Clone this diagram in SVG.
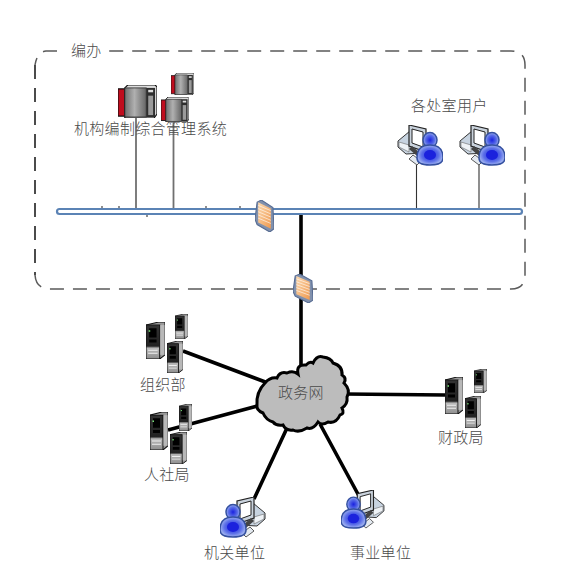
<svg xmlns="http://www.w3.org/2000/svg" width="585" height="584" viewBox="0 0 585 584">
<style>
text{font-family:"Noto Sans CJK SC","Liberation Sans",sans-serif;font-size:15px;letter-spacing:.3px;fill:#4a4a4a;font-weight:300}
.thick{stroke:#000;stroke-width:3.6;fill:none}
.thin{stroke:#333;stroke-width:1.1;fill:none}
.gray{stroke:#707070;stroke-width:1.8;fill:none}
.dash{fill:none;stroke:#5a5a5a;stroke-width:1.5;stroke-dasharray:14 9}
</style>
<defs>
<linearGradient id="rackG" x1="0" x2="1" y1="0" y2="0"><stop offset="0" stop-color="#707070"/><stop offset=".45" stop-color="#b0b0b0"/><stop offset="1" stop-color="#666"/></linearGradient>
<linearGradient id="towerG" x1="0" x2="0" y1="0" y2="1"><stop offset="0" stop-color="#333"/><stop offset=".62" stop-color="#222"/><stop offset=".68" stop-color="#bbb"/><stop offset="1" stop-color="#8e8e8e"/></linearGradient>
<radialGradient id="userG"><stop offset="0" stop-color="#1a22e0"/><stop offset=".65" stop-color="#5b6fe8"/><stop offset="1" stop-color="#9db0f0"/></radialGradient>
<linearGradient id="fwG" x1="0" x2="1" y1="0" y2="1"><stop offset="0" stop-color="#fbd9b0"/><stop offset="1" stop-color="#f09a50"/></linearGradient>
<symbol id="rack" viewBox="0 0 40 34" preserveAspectRatio="none">
<path d="M0 4h8v28H0z" fill="#c00d1e" stroke="#111" stroke-width="1.2"/>
<path d="M7 3 10 0h28l2 2v28l-3 4H7z" fill="#ddd" stroke="#111" stroke-width="1.2"/>
<rect x="7" y="3" width="22" height="30" fill="url(#rackG)" stroke="#222" stroke-width=".8"/>
<rect x="29" y="3" width="9" height="30" fill="#2e2e2e"/>
<rect x="31" y="11" width="5" height="20" fill="#9a9a9a"/>
<rect x="31" y="5" width="5" height="2.500" fill="#ddd"/>
</symbol>
<symbol id="tower" viewBox="0 0 18 36" preserveAspectRatio="none">
<path d="M0 3 12 0h6v32l-5 4H0z" fill="#9a9a9a" stroke="#111" stroke-width="1"/>
<path d="M0 3h13v33H0z" fill="url(#towerG)" stroke="#111" stroke-width="1"/>
<path d="M3 6h7v9H3zM3 17h7v3H3z" fill="#000"/>
<path d="M2 27h9v1H2zM2 30h9v1H2z" fill="#eee"/>
<rect x="2.500" y="8" width="1.500" height="1.500" fill="#7d7"/>
<rect x="13.500" y="3" width="4" height="29" fill="#b8b8b8"/>
</symbol>
<symbol id="pcuser" viewBox="0 0 46 41">
<path d="M1 16 13 6l14 4v18L9 29 1 22z" fill="#c7d3e0" stroke="#333" stroke-width="1"/>
<path d="M2 17 12 20V27L2 22z" fill="#eef2f6" stroke="#666" stroke-width=".6"/>
<path d="M12 0 29 4v23L12 21z" fill="#c9d2dc" stroke="#222" stroke-width="1.200"/>
<path d="M15 4 26 7v15L15 18z" fill="#fff" stroke="#222"/>
<path d="M12 24 20 31 23 28 15 21z" fill="#444"/>
<path d="M16 30 24 36 20 40 12 34z" fill="#e3e9f0" stroke="#333" stroke-width=".8"/>
<ellipse cx="33" cy="15" rx="7" ry="7.500" fill="url(#userG)" stroke="#3450a0" stroke-width="1.500"/>
<path d="M20 33Q20 20 33 20 46 20 46 33 46 40 33 40 20 40 20 33z" fill="url(#userG)" stroke="#3450a0" stroke-width="1.500"/>
<ellipse cx="33" cy="30" rx="6" ry="5" fill="#1b22dd"/>
</symbol>
<symbol id="fw" viewBox="0 0 18 30" preserveAspectRatio="none">
<path d="M2 2 6 0 17 7 18 27 14 30 2 23 0 18z" fill="#8191ad" stroke="#566b92"/>
<path d="M3 2 15 8 15 27 3 21z" fill="url(#fwG)"/>
<path d="M3 5l12 5M3 8l12 5M3 11l12 5M3 14l12 5M3 17l12 5" stroke="#fff" stroke-width=".7" fill="none" opacity=".8"/>
</symbol>
</defs>
<rect width="585" height="584" fill="#fff"/>
<g id="boundary">
<path class="dash" d="M57 51H46Q37 52 35 65"/>
<path class="dash" d="M35 65V275" style="stroke:#111"/>
<path class="dash" d="M35 275Q36 289 50 289H511Q525 289 525 275V65Q525 51 511 51H105"/>
</g>
<g id="connectors">
<path class="gray" d="M136 118V209M173.500 122V209"/>
<path class="thin" d="M416.500 165V209M479 165V209"/>
<path class="thin" d="M102 206V209M119 206V209M147 214V217M206 206V209M240 206V209"/>
<path class="thick" d="M301 214V375M183 351 268 383M168 430 257 406M345 394 445 395M254 499 287 428M359 496 320 424"/>
</g>
<g id="bus">
<rect x="57" y="209" width="465" height="5" rx="2.500" fill="#fff" stroke="#5b83b5" stroke-width="2.200"/>
</g>
<g id="fw1"><use href="#fw" x="255" y="200" width="19" height="32"/></g>
<g id="fw2"><use href="#fw" x="293" y="274" width="20" height="29"/></g>
<g id="label-bianban"><text x="71" y="56">编办</text></g>
<g id="system">
<use href="#rack" x="171" y="73" width="23" height="22"/>
<use href="#rack" x="118" y="85" width="39" height="33"/>
<use href="#rack" x="161" y="97" width="28" height="25"/>
<text x="74" y="134">机构编制综合管理系统</text>
</g>
<g id="users">
<text x="411" y="111">各处室用户</text>
<use href="#pcuser" x="397" y="125" width="46" height="41"/>
<use href="#pcuser" x="459" y="125" width="46" height="41"/>
</g>
<g id="cloud">
<path d="M257 405Q256 392 265 383Q270 377 277 378Q280 371 287 373Q293 370 298 374Q296 364 306 365Q310 361 313 363Q317 355 323 357Q331 358 333 363Q343 366 342 375Q347 378 344 383Q351 390 347 397Q348 404 342 408Q345 414 340 415Q336 424 328 422Q322 426 318 422Q313 430 307 428Q299 433 293 430Q286 431 283 425Q276 426 273 422Q266 420 263 413Q256 410 257 405z" fill="#bcbcbc" stroke="#000" stroke-width="3"/>
<text x="278" y="398">政务网</text>
</g>
<g id="org">
<use href="#tower" x="146" y="322" width="19" height="37"/>
<use href="#tower" x="175" y="314" width="13" height="25"/>
<use href="#tower" x="167" y="341" width="16" height="32"/>
<text x="140" y="390">组织部</text>
</g>
<g id="hr">
<use href="#tower" x="150" y="412" width="18" height="38"/>
<use href="#tower" x="179" y="404" width="13" height="27"/>
<use href="#tower" x="170" y="432" width="17" height="32"/>
<text x="144" y="480">人社局</text>
</g>
<g id="finance">
<use href="#tower" x="474" y="369" width="13" height="24"/>
<use href="#tower" x="445" y="377" width="18" height="37"/>
<use href="#tower" x="465" y="396" width="16" height="32"/>
<text x="438" y="443">财政局</text>
</g>
<g id="jiguan">
<use href="#pcuser" transform="translate(266 497) scale(-1 1)" width="46" height="41"/>
<text x="204" y="558">机关单位</text>
</g>
<g id="shiye">
<use href="#pcuser" transform="translate(385 490) scale(-1 1)" width="44" height="39"/>
<text x="350" y="558">事业单位</text>
</g>
</svg>
